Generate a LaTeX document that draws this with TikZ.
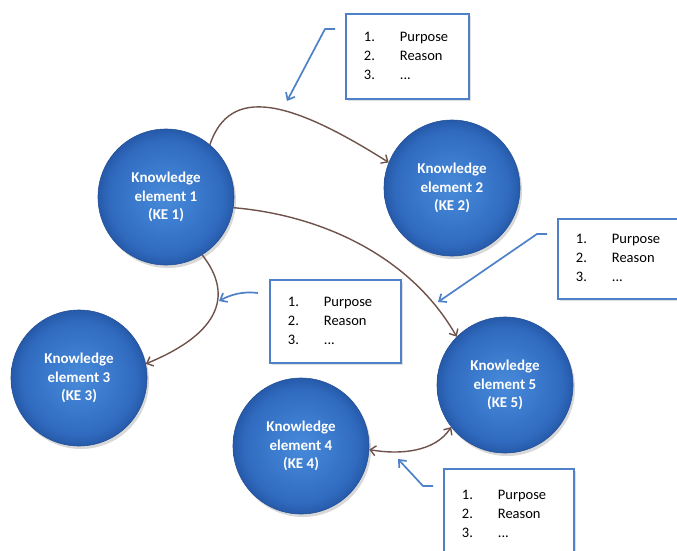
\documentclass[tikz,border=0pt]{standalone}
\usepackage{fontspec}
\setmainfont{Carlito}
\usetikzlibrary{arrows.meta,shadows}

\definecolor{keinner}{RGB}{72,138,218}
\definecolor{kemid}{RGB}{58,121,204}
\definecolor{kerim}{RGB}{48,106,190}
\definecolor{keouter}{RGB}{38,90,170}
\definecolor{keedge}{RGB}{36,80,150}
\definecolor{linkbrown}{RGB}{112,82,76}
\definecolor{noteblue}{RGB}{79,129,200}

% sphere-like fill for the knowledge elements
\pgfdeclareradialshading{kesphere}{\pgfpoint{0bp}{0bp}}{%
  color(0bp)=(keinner); color(12bp)=(kemid); color(21bp)=(kerim);
  color(25bp)=(keouter); color(50bp)=(keouter)}

\tikzset{
  kenode/.style={circle, minimum size=136pt, inner sep=0pt, shading=kesphere,
    draw=keedge, line width=0.6pt, text=white, align=center,
    font=\fontsize{15}{18.5}\selectfont\bfseries,
    drop shadow={opacity=0.3, shadow xshift=2pt, shadow yshift=-3pt}},
  notebox/.style={draw=noteblue, line width=1.8pt, fill=white, anchor=north west,
    inner xsep=18pt, inner ysep=0pt, align=left,
    font=\fontsize{14.5}{19}\selectfont,
    drop shadow={opacity=0.25, shadow xshift=2pt, shadow yshift=-2.5pt}},
  link/.style={draw=linkbrown, line width=1.4pt,
    -{Straight Barb[length=5.5pt,width=10pt]}},
  callout/.style={draw=noteblue, line width=1.7pt, line join=round,
    -{Straight Barb[length=6pt,width=10pt]}}
}

\newcommand{\notelist}{%
  \begin{tabular}{@{}p{36pt}@{}l@{}}1.&Purpose\\2.&Reason\\3.&...\end{tabular}}

\begin{document}
\begin{tikzpicture}[x=1pt,y=-1pt]
  \useasboundingbox (0,0) rectangle (677,550);
  \fill[white] (0,0) rectangle (677,550);

  % knowledge elements
  \node[kenode] (ke1) at (166,197) {Knowledge\\element 1\\(KE 1)};
  \node[kenode] (ke2) at (452,188) {Knowledge\\element 2\\(KE 2)};
  \node[kenode] (ke3) at (79,378)  {Knowledge\\element 3\\(KE 3)};
  \node[kenode] (ke4) at (301,446) {Knowledge\\element 4\\(KE 4)};
  \node[kenode] (ke5) at (505,385) {Knowledge\\element 5\\(KE 5)};

  % relations between elements
  \draw[link] (ke1.50) .. controls (230,85) and (290,100) .. (ke2.158);
  \draw[link] (ke1.-9) .. controls (320,215) and (410,255) .. (ke5.135);
  \draw[link] (ke1.-58) .. controls (222,280) and (240,325) .. (ke3.12);
  \draw[link, {Straight Barb[length=5.5pt,width=10pt]}-{Straight Barb[length=5.5pt,width=10pt]}]
    (ke4.-3) .. controls (400,455) and (435,452) .. (ke5.218);

  % annotation boxes
  \node[notebox, text width=87pt, minimum height=85pt] (n1) at (345,13)  {\notelist};
  \node[notebox, text width=87pt, minimum height=80pt] (n2) at (557,218) {\notelist};
  \node[notebox, text width=95pt, minimum height=83pt] (n3) at (269,279) {\notelist};
  \node[notebox, text width=94pt, minimum height=92pt] (n4) at (443,468) {\notelist};

  % callout pointers from the boxes to the relations
  \coordinate (n1tail) at (335,29);
  \coordinate (t1) at (287,101);
  \coordinate (n2tail) at (547,234);
  \coordinate (t2) at (438,302);
  \coordinate (n3tail) at (258,293);
  \coordinate (t3) at (219,301);
  \coordinate (n4tail) at (433,486);
  \coordinate (t4) at (398,459);

  \draw[callout] (n1tail) -- ++(-10,0) -- (t1);
  \draw[callout] (n2tail) -- ++(-10,0) -- (t2);
  \draw[callout] (n3tail) .. controls (242,291) and (230,295) .. (t3);
  \draw[callout] (n4tail) -- ++(-10,0) -- (t4);
\end{tikzpicture}
\end{document}
